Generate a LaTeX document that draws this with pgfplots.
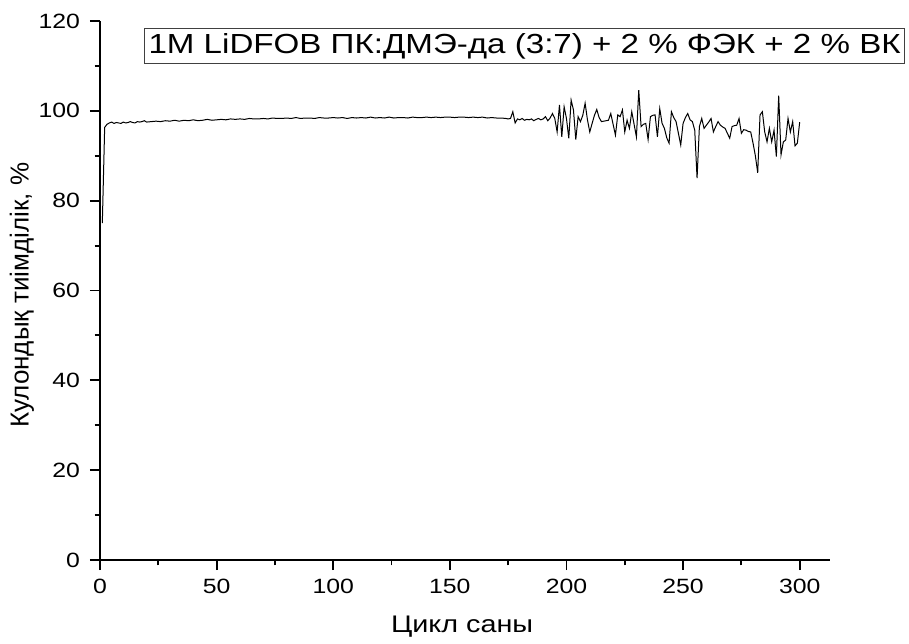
\documentclass[border=0pt]{standalone}
\usepackage{fontspec}
\setmainfont{Liberation Sans}[FakeStretch=1.2]
\newfontfamily\ylabfont{Liberation Sans}
\usepackage{pgfplots}
\pgfplotsset{compat=1.18}
\begin{document}
\begin{tikzpicture}
\begin{axis}[
  name=ax,
  scale only axis,
  width=547.5pt, height=404.25pt,
  xmin=0, xmax=313, ymin=0, ymax=120,
  axis x line*=bottom, axis y line*=left,
  axis line style={line width=1.4pt},
  tick align=outside,
  xtick={0,50,...,300}, ytick={0,20,...,120},
  minor x tick num=1, minor y tick num=1,
  major tick length=7.5pt, minor tick length=4pt,
  tick style={line width=1.4pt, black},
  /pgf/number format/assume math mode=true,
  tick label style={font=\fontsize{15.5}{17}\selectfont},
  xticklabel style={yshift=-3pt},
  yticklabel style={xshift=-4pt},
  xlabel={Цикл саны}, ylabel={\ylabfont Кулондық тиімділік, \%},
  xlabel style={font=\fontsize{18}{20}\selectfont, at={(axis description cs:0.496,-0.124)}, anchor=center},
  ylabel style={font=\fontsize{19.5}{22}\selectfont, at={(axis description cs:-0.107,0.491)}, anchor=center},
  clip=false,
]
\addplot[black, line width=0.75pt] coordinates {
(1,75.0)(2,96.3)(3,97.0)(4,97.3)(5,97.5)(6,97.2)(7,97.4)(8,97.3)(9,97.2)(10,97.5)
(11,97.3)(12,97.4)(13,97.6)(14,97.4)(15,97.3)(16,97.6)(17,97.5)(18,97.6)(19,97.8)(20,97.5)
(22,97.6)(24,97.7)(26,97.6)(28,97.8)(30,97.7)(32,97.9)(34,97.7)(36,97.9)(38,97.8)(40,98.0)
(42,97.8)(44,97.9)(46,98.1)(48,97.9)(50,98.0)(52,98.1)(54,98.0)(56,98.2)(58,98.1)(60,98.2)
(62,98.1)(64,98.3)(66,98.2)(68,98.2)(70,98.3)(72,98.2)(74,98.4)(76,98.3)(78,98.3)(80,98.4)
(82,98.3)(84,98.5)(86,98.3)(88,98.4)(90,98.4)(92,98.3)(94,98.5)(96,98.4)(98,98.4)(100,98.5)
(102,98.4)(104,98.5)(106,98.3)(108,98.5)(110,98.4)(112,98.5)(114,98.4)(116,98.6)(118,98.4)(120,98.5)
(122,98.4)(124,98.6)(126,98.4)(128,98.5)(130,98.5)(132,98.4)(134,98.6)(136,98.5)(138,98.5)(140,98.6)
(142,98.5)(144,98.6)(146,98.5)(148,98.6)(150,98.6)(152,98.5)(154,98.6)(156,98.6)(158,98.5)(160,98.6)
(162,98.5)(164,98.6)(166,98.4)(168,98.5)(170,98.4)(172,98.4)(174,98.3)(175,98.2)(176,98.3)(177,99.8)
(178,97.3)(179,98.2)(180,98.0)(181,98.3)(182,97.9)(183,98.1)(184,98.0)(185,98.2)(186,97.8)(187,98.1)
(188,98.3)(189,98.0)(190,98.2)(191,98.7)(192,97.8)(193,98.4)
(194,99.4)(195,98.3)(196,95.3)(197,101.3)(198,94.2)(199,100.9)(200,98.3)(201,93.9)(202,102.4)(203,100.2)
(204,93.6)(205,98.7)(206,97.6)(207,99.0)(208,101.7)(209,98.0)(210,95.3)(211,97.2)(212,99.0)(213,100.3)
(214,98.5)(215,97.6)(216,97.7)(217,97.8)(218,97.9)(219,99.4)(220,97.0)(221,94.6)(222,99.1)(223,98.7)
(224,100.2)(225,95.3)(226,97.9)(227,96.1)(228,99.8)(229,97.0)(230,94.2)(231,104.6)(232,96.5)(233,97.0)
(234,97.2)(235,93.6)(236,98.7)(237,99.0)(238,99.1)(239,94.2)(240,100.5)(241,97.2)(242,96.1)(243,94.0)
(244,92.8)(245,99.8)(246,98.5)(247,97.6)(248,95.0)(249,92.4)(250,97.2)(251,98.5)(252,99.4)(253,98.0)
(254,97.6)(255,95.7)(256,85.0)(257,96.5)(258,98.3)(259,96.1)(260,96.8)(261,97.5)(262,98.3)(263,95.3)
(264,96.5)(265,97.6)(266,96.8)(267,96.4)(268,96.1)(269,95.0)(270,93.9)(271,96.5)(272,96.7)(273,96.8)
(274,98.3)(275,95.0)(276,95.8)(277,95.7)(278,95.4)(279,95.3)(280,92.8)(281,90.0)(282,86.2)(283,99.1)
(284,99.8)(285,95.3)(286,93.1)(287,96.1)(288,93.1)(289,95.7)(290,89.8)(291,103.4)(292,90.2)(293,93.1)
(294,93.5)(295,98.3)(296,95.3)(297,97.6)(298,92.2)(299,92.8)(300,97.5)
};
\node[draw=black!75, line width=0.8pt, anchor=north east, inner xsep=3pt, inner ysep=3.5pt,
  font=\fontsize{20.7}{24}\selectfont] at (rel axis cs:1.103,0.987) {1M LiDFOB ПК:ДМЭ-да (3:7) + 2 \% ФЭК + 2 \% ВК};
\end{axis}
\pgfresetboundingbox
\path[use as bounding box] (ax.south west) ++(-75pt,-62.25pt) rectangle ++(681.75pt,482.25pt);
\end{tikzpicture}
\end{document}
